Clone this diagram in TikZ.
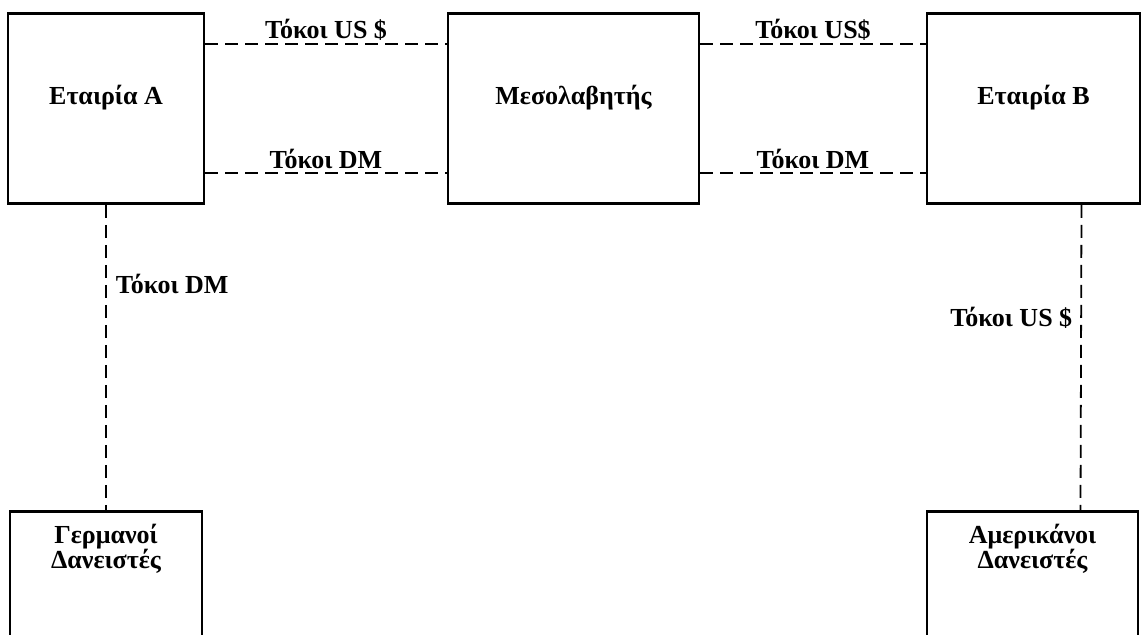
\documentclass[tikz,border=0pt]{standalone}
\usepackage{fontspec}
\setmainfont{Liberation Serif}
\newcommand{\tightlines}{\lineskiplimit=-20pt\relax}

\begin{document}
\begin{tikzpicture}[x=0.5pt, y=-0.5pt,
	firm/.style={draw, line width=1.4pt, anchor=north, minimum height=95pt,
		font=\bfseries\fontsize{13}{15}\selectfont, text height=9.5pt, text depth=13pt},
	lender/.style={draw, line width=1.4pt, anchor=north, align=center, inner ysep=6.5pt,
		font=\bfseries\fontsize{13}{12.5}\selectfont\tightlines, text depth=60pt},
	flow/.style={dash pattern=on 6.5pt off 3.5pt, line width=0.9pt},
	lbl/.style={font=\bfseries\fontsize{13}{15}\selectfont, inner sep=1.5pt}]

	\clip (0,0) rectangle (1146,634);

	% === FIRMS === (((
	\node (A) [firm, minimum width=98pt] at (106,12) {Εταιρία A};
	\node (M) [firm, minimum width=125.5pt] at (573.5,12) {Μεσολαβητής};
	\node (B) [firm, minimum width=106.5pt] at (1033.5,12) {Εταιρία B};
	% )))

	% === LENDERS === (((
	\node (GL) [lender, minimum width=96pt] at (106,510) {Γερμανοί\\Δανειστές};
	\node (AL) [lender, minimum width=105.5pt] at (1032.5,510) {Αμερικάνοι\\Δανειστές};
	% )))

	% === SWAP FLOWS === (((
	\draw [flow] ([yshift=-16pt]A.north east) -- node [lbl,above] {Τόκοι US \$} ([yshift=-16pt]M.north west);
	\draw [flow] ([yshift=16pt]A.south east) -- node [lbl,above] {Τόκοι DM} ([yshift=16pt]M.south west);
	\draw [flow] ([yshift=-16pt]M.north east) -- node [lbl,above] {Τόκοι US\$} ([yshift=-16pt]B.north west);
	\draw [flow] ([yshift=16pt]M.south east) -- node [lbl,above] {Τόκοι DM} ([yshift=16pt]B.south west);
	% )))

	% === LOANS === (((
	\draw [flow] (A.south) -- node [lbl,right,pos=0.26,xshift=3pt] {Τόκοι DM} (GL.north);
	\draw [flow] ([xshift=24pt]B.south) -- node [lbl,left,pos=0.37,xshift=-2.5pt] {Τόκοι US \$} ([xshift=24pt]AL.north);
	% )))

\end{tikzpicture}
\end{document}
